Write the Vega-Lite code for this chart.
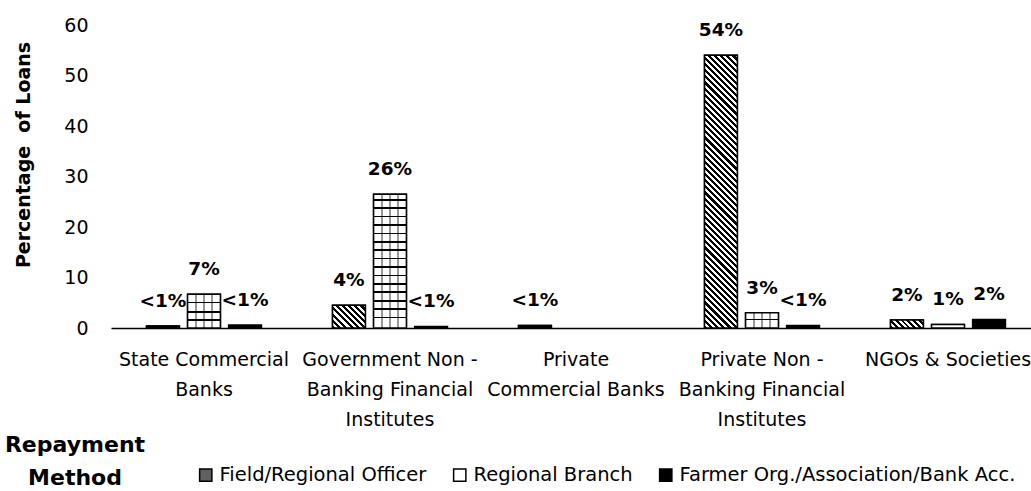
{
  "$schema": "https://vega.github.io/schema/vega-lite/v6.json",
  "autosize": "none",
  "width": 920,
  "height": 303,
  "padding": {"left": 111, "top": 25, "right": 0, "bottom": 163},
  "background": "white",
  "config": {"view": {"stroke": null}, "font": "DejaVu Sans", "axis": {"grid": false}},
  "data": {
    "values": [
      {"sector": "State Commercial Banks", "method": "Field/Regional Officer", "value": 0.4, "label": "<1%"},
      {"sector": "State Commercial Banks", "method": "Regional Branch", "value": 6.7, "label": "7%"},
      {"sector": "State Commercial Banks", "method": "Farmer Org./Association/Bank Acc.", "value": 0.6, "label": "<1%"},
      {"sector": "Government Non - Banking Financial Institutes", "method": "Field/Regional Officer", "value": 4.5, "label": "4%"},
      {"sector": "Government Non - Banking Financial Institutes", "method": "Regional Branch", "value": 26.5, "label": "26%"},
      {"sector": "Government Non - Banking Financial Institutes", "method": "Farmer Org./Association/Bank Acc.", "value": 0.3, "label": "<1%"},
      {"sector": "Private Commercial Banks", "method": "Field/Regional Officer", "value": 0.5, "label": "<1%"},
      {"sector": "Private Non - Banking Financial Institutes", "method": "Field/Regional Officer", "value": 54, "label": "54%"},
      {"sector": "Private Non - Banking Financial Institutes", "method": "Regional Branch", "value": 3.0, "label": "3%"},
      {"sector": "Private Non - Banking Financial Institutes", "method": "Farmer Org./Association/Bank Acc.", "value": 0.5, "label": "<1%"},
      {"sector": "NGOs & Societies", "method": "Field/Regional Officer", "value": 1.6, "label": "2%"},
      {"sector": "NGOs & Societies", "method": "Regional Branch", "value": 0.7, "label": "1%"},
      {"sector": "NGOs & Societies", "method": "Farmer Org./Association/Bank Acc.", "value": 1.7, "label": "2%"}
    ]
  },
  "encoding": {
    "x": {
      "field": "sector", "type": "nominal",
      "sort": ["State Commercial Banks", "Government Non - Banking Financial Institutes", "Private Commercial Banks", "Private Non - Banking Financial Institutes", "NGOs & Societies"],
      "scale": {"range": [0, 930], "paddingInner": 0.382, "paddingOuter": 0.191},
      "title": null,
      "axis": {
        "domain": true, "domainColor": "black", "domainWidth": 1.5,
        "ticks": false, "labelAngle": 0, "labelFontSize": 19, "labelColor": "black",
        "labelLineHeight": 30, "labelPadding": 22, "labelLimit": 0, "labelOverlap": false,
        "labelExpr": "datum.value == 'State Commercial Banks' ? ['State Commercial', 'Banks'] : datum.value == 'Private Commercial Banks' ? ['Private', 'Commercial Banks'] : datum.value == 'NGOs & Societies' ? 'NGOs & Societies' : indexof(datum.value, 'Government') == 0 ? ['Government Non -', 'Banking Financial', 'Institutes'] : ['Private Non -', 'Banking Financial', 'Institutes']"
      }
    },
    "xOffset": {
      "field": "method", "type": "nominal",
      "scale": {"domain": ["Field/Regional Officer", "Regional Branch", "Farmer Org./Association/Bank Acc."], "paddingInner": 0.2, "paddingOuter": 0}
    },
    "y": {
      "field": "value", "type": "quantitative",
      "scale": {"domain": [0, 60], "nice": false},
      "title": "Percentage\u00a0 of Loans",
      "axis": {
        "values": [0, 10, 20, 30, 40, 50, 60], "domain": false, "ticks": false, "grid": false,
        "labelFontSize": 19, "labelColor": "black", "labelPadding": 23,
        "titleFontSize": 19, "titleFontWeight": "bold", "titleColor": "black",
        "titleX": -88, "titleY": 129.5, "titleAngle": -90, "titleAlign": "center", "titleBaseline": "middle"
      }
    }
  },
  "layer": [
    {
      "mark": {"type": "bar", "stroke": "black", "strokeWidth": 1.5},
      "encoding": {
        "color": {
          "field": "method", "type": "nominal",
          "scale": {"domain": ["Field/Regional Officer", "Regional Branch", "Farmer Org./Association/Bank Acc."], "range": ["#606060", "white", "black"]},
          "legend": {
            "title": ["Repayment", "Method"], "orient": "none", "legendX": -106, "legendY": 440,
            "direction": "horizontal", "titleOrient": "left", "titleFontSize": 22, "titleFontWeight": "bold",
            "titleColor": "black", "titleLineHeight": 33, "titleAlign": "center", "titlePadding": -20,
            "titleAnchor": "end", "titleBaseline": "alphabetic",
            "labelFontSize": 19.5, "labelColor": "black", "symbolType": "square", "symbolSize": 150,
            "symbolStrokeColor": "black", "symbolStrokeWidth": 1.5, "columnPadding": 23, "labelOffset": 4, "labelLimit": 0
          }
        }
      }
    },
    {
      "transform": [{"filter": "datum.method == 'Field/Regional Officer'"}],
      "mark": {"type": "bar", "stroke": "black", "strokeWidth": 1.5},
      "encoding": {
        "fill": {
          "condition": [
            {"test": "datum.value > 50", "value": {"gradient": "linear", "x1": 0, "y1": 1, "x2": 0.133, "y2": -0.1044, "stops": [
              {"offset":0,"color":"#000"},{"offset":0.01,"color":"#000"},{"offset":0.01,"color":"#fff"},{"offset":0.02,"color":"#fff"},
              {"offset":0.02,"color":"#000"},{"offset":0.03,"color":"#000"},{"offset":0.03,"color":"#fff"},{"offset":0.04,"color":"#fff"},
              {"offset":0.04,"color":"#000"},{"offset":0.05,"color":"#000"},{"offset":0.05,"color":"#fff"},{"offset":0.06,"color":"#fff"},
              {"offset":0.06,"color":"#000"},{"offset":0.07,"color":"#000"},{"offset":0.07,"color":"#fff"},{"offset":0.08,"color":"#fff"},
              {"offset":0.08,"color":"#000"},{"offset":0.09,"color":"#000"},{"offset":0.09,"color":"#fff"},{"offset":0.10,"color":"#fff"},
              {"offset":0.10,"color":"#000"},{"offset":0.11,"color":"#000"},{"offset":0.11,"color":"#fff"},{"offset":0.12,"color":"#fff"},
              {"offset":0.12,"color":"#000"},{"offset":0.13,"color":"#000"},{"offset":0.13,"color":"#fff"},{"offset":0.14,"color":"#fff"},
              {"offset":0.14,"color":"#000"},{"offset":0.15,"color":"#000"},{"offset":0.15,"color":"#fff"},{"offset":0.16,"color":"#fff"},
              {"offset":0.16,"color":"#000"},{"offset":0.17,"color":"#000"},{"offset":0.17,"color":"#fff"},{"offset":0.18,"color":"#fff"},
              {"offset":0.18,"color":"#000"},{"offset":0.19,"color":"#000"},{"offset":0.19,"color":"#fff"},{"offset":0.20,"color":"#fff"},
              {"offset":0.20,"color":"#000"},{"offset":0.21,"color":"#000"},{"offset":0.21,"color":"#fff"},{"offset":0.22,"color":"#fff"},
              {"offset":0.22,"color":"#000"},{"offset":0.23,"color":"#000"},{"offset":0.23,"color":"#fff"},{"offset":0.24,"color":"#fff"},
              {"offset":0.24,"color":"#000"},{"offset":0.25,"color":"#000"},{"offset":0.25,"color":"#fff"},{"offset":0.26,"color":"#fff"},
              {"offset":0.26,"color":"#000"},{"offset":0.27,"color":"#000"},{"offset":0.27,"color":"#fff"},{"offset":0.28,"color":"#fff"},
              {"offset":0.28,"color":"#000"},{"offset":0.29,"color":"#000"},{"offset":0.29,"color":"#fff"},{"offset":0.30,"color":"#fff"},
              {"offset":0.30,"color":"#000"},{"offset":0.31,"color":"#000"},{"offset":0.31,"color":"#fff"},{"offset":0.32,"color":"#fff"},
              {"offset":0.32,"color":"#000"},{"offset":0.33,"color":"#000"},{"offset":0.33,"color":"#fff"},{"offset":0.34,"color":"#fff"},
              {"offset":0.34,"color":"#000"},{"offset":0.35,"color":"#000"},{"offset":0.35,"color":"#fff"},{"offset":0.36,"color":"#fff"},
              {"offset":0.36,"color":"#000"},{"offset":0.37,"color":"#000"},{"offset":0.37,"color":"#fff"},{"offset":0.38,"color":"#fff"},
              {"offset":0.38,"color":"#000"},{"offset":0.39,"color":"#000"},{"offset":0.39,"color":"#fff"},{"offset":0.40,"color":"#fff"},
              {"offset":0.40,"color":"#000"},{"offset":0.41,"color":"#000"},{"offset":0.41,"color":"#fff"},{"offset":0.42,"color":"#fff"},
              {"offset":0.42,"color":"#000"},{"offset":0.43,"color":"#000"},{"offset":0.43,"color":"#fff"},{"offset":0.44,"color":"#fff"},
              {"offset":0.44,"color":"#000"},{"offset":0.45,"color":"#000"},{"offset":0.45,"color":"#fff"},{"offset":0.46,"color":"#fff"},
              {"offset":0.46,"color":"#000"},{"offset":0.47,"color":"#000"},{"offset":0.47,"color":"#fff"},{"offset":0.48,"color":"#fff"},
              {"offset":0.48,"color":"#000"},{"offset":0.49,"color":"#000"},{"offset":0.49,"color":"#fff"},{"offset":0.50,"color":"#fff"},
              {"offset":0.50,"color":"#000"},{"offset":0.51,"color":"#000"},{"offset":0.51,"color":"#fff"},{"offset":0.52,"color":"#fff"},
              {"offset":0.52,"color":"#000"},{"offset":0.53,"color":"#000"},{"offset":0.53,"color":"#fff"},{"offset":0.54,"color":"#fff"},
              {"offset":0.54,"color":"#000"},{"offset":0.55,"color":"#000"},{"offset":0.55,"color":"#fff"},{"offset":0.56,"color":"#fff"},
              {"offset":0.56,"color":"#000"},{"offset":0.57,"color":"#000"},{"offset":0.57,"color":"#fff"},{"offset":0.58,"color":"#fff"},
              {"offset":0.58,"color":"#000"},{"offset":0.59,"color":"#000"},{"offset":0.59,"color":"#fff"},{"offset":0.60,"color":"#fff"},
              {"offset":0.60,"color":"#000"},{"offset":0.61,"color":"#000"},{"offset":0.61,"color":"#fff"},{"offset":0.62,"color":"#fff"},
              {"offset":0.62,"color":"#000"},{"offset":0.63,"color":"#000"},{"offset":0.63,"color":"#fff"},{"offset":0.64,"color":"#fff"},
              {"offset":0.64,"color":"#000"},{"offset":0.65,"color":"#000"},{"offset":0.65,"color":"#fff"},{"offset":0.66,"color":"#fff"},
              {"offset":0.66,"color":"#000"},{"offset":0.67,"color":"#000"},{"offset":0.67,"color":"#fff"},{"offset":0.68,"color":"#fff"},
              {"offset":0.68,"color":"#000"},{"offset":0.69,"color":"#000"},{"offset":0.69,"color":"#fff"},{"offset":0.70,"color":"#fff"},
              {"offset":0.70,"color":"#000"},{"offset":0.71,"color":"#000"},{"offset":0.71,"color":"#fff"},{"offset":0.72,"color":"#fff"},
              {"offset":0.72,"color":"#000"},{"offset":0.73,"color":"#000"},{"offset":0.73,"color":"#fff"},{"offset":0.74,"color":"#fff"},
              {"offset":0.74,"color":"#000"},{"offset":0.75,"color":"#000"},{"offset":0.75,"color":"#fff"},{"offset":0.76,"color":"#fff"},
              {"offset":0.76,"color":"#000"},{"offset":0.77,"color":"#000"},{"offset":0.77,"color":"#fff"},{"offset":0.78,"color":"#fff"},
              {"offset":0.78,"color":"#000"},{"offset":0.79,"color":"#000"},{"offset":0.79,"color":"#fff"},{"offset":0.80,"color":"#fff"},
              {"offset":0.80,"color":"#000"},{"offset":0.81,"color":"#000"},{"offset":0.81,"color":"#fff"},{"offset":0.82,"color":"#fff"},
              {"offset":0.82,"color":"#000"},{"offset":0.83,"color":"#000"},{"offset":0.83,"color":"#fff"},{"offset":0.84,"color":"#fff"},
              {"offset":0.84,"color":"#000"},{"offset":0.85,"color":"#000"},{"offset":0.85,"color":"#fff"},{"offset":0.86,"color":"#fff"},
              {"offset":0.86,"color":"#000"},{"offset":0.87,"color":"#000"},{"offset":0.87,"color":"#fff"},{"offset":0.88,"color":"#fff"},
              {"offset":0.88,"color":"#000"},{"offset":0.89,"color":"#000"},{"offset":0.89,"color":"#fff"},{"offset":0.90,"color":"#fff"},
              {"offset":0.90,"color":"#000"},{"offset":0.91,"color":"#000"},{"offset":0.91,"color":"#fff"},{"offset":0.92,"color":"#fff"},
              {"offset":0.92,"color":"#000"},{"offset":0.93,"color":"#000"},{"offset":0.93,"color":"#fff"},{"offset":0.94,"color":"#fff"},
              {"offset":0.94,"color":"#000"},{"offset":0.95,"color":"#000"},{"offset":0.95,"color":"#fff"},{"offset":0.96,"color":"#fff"},
              {"offset":0.96,"color":"#000"},{"offset":0.97,"color":"#000"},{"offset":0.97,"color":"#fff"},{"offset":0.98,"color":"#fff"},
              {"offset":0.98,"color":"#000"},{"offset":0.99,"color":"#000"},{"offset":0.99,"color":"#fff"},{"offset":1,"color":"#fff"}
            ]}},
            {"test": "datum.value > 3", "value": {"gradient": "linear", "x1": 0, "y1": 1, "x2": 1.1444, "y2": 0.209, "stops": [
              {"offset":0,"color":"#000"},{"offset":0.0556,"color":"#000"},{"offset":0.0556,"color":"#fff"},{"offset":0.1111,"color":"#fff"},
              {"offset":0.1111,"color":"#000"},{"offset":0.1667,"color":"#000"},{"offset":0.1667,"color":"#fff"},{"offset":0.2222,"color":"#fff"},
              {"offset":0.2222,"color":"#000"},{"offset":0.2778,"color":"#000"},{"offset":0.2778,"color":"#fff"},{"offset":0.3333,"color":"#fff"},
              {"offset":0.3333,"color":"#000"},{"offset":0.3889,"color":"#000"},{"offset":0.3889,"color":"#fff"},{"offset":0.4444,"color":"#fff"},
              {"offset":0.4444,"color":"#000"},{"offset":0.5,"color":"#000"},{"offset":0.5,"color":"#fff"},{"offset":0.5556,"color":"#fff"},
              {"offset":0.5556,"color":"#000"},{"offset":0.6111,"color":"#000"},{"offset":0.6111,"color":"#fff"},{"offset":0.6667,"color":"#fff"},
              {"offset":0.6667,"color":"#000"},{"offset":0.7222,"color":"#000"},{"offset":0.7222,"color":"#fff"},{"offset":0.7778,"color":"#fff"},
              {"offset":0.7778,"color":"#000"},{"offset":0.8333,"color":"#000"},{"offset":0.8333,"color":"#fff"},{"offset":0.8889,"color":"#fff"},
              {"offset":0.8889,"color":"#000"},{"offset":0.9444,"color":"#000"},{"offset":0.9444,"color":"#fff"},{"offset":1,"color":"#fff"}
            ]}},
            {"test": "datum.value > 1", "value": {"gradient": "linear", "x1": 0, "y1": 1, "x2": 1.1752, "y2": 0.7101, "stops": [
              {"offset":0,"color":"#000"},{"offset":0.0714,"color":"#000"},{"offset":0.0714,"color":"#fff"},{"offset":0.1429,"color":"#fff"},
              {"offset":0.1429,"color":"#000"},{"offset":0.2143,"color":"#000"},{"offset":0.2143,"color":"#fff"},{"offset":0.2857,"color":"#fff"},
              {"offset":0.2857,"color":"#000"},{"offset":0.3571,"color":"#000"},{"offset":0.3571,"color":"#fff"},{"offset":0.4286,"color":"#fff"},
              {"offset":0.4286,"color":"#000"},{"offset":0.5,"color":"#000"},{"offset":0.5,"color":"#fff"},{"offset":0.5714,"color":"#fff"},
              {"offset":0.5714,"color":"#000"},{"offset":0.6429,"color":"#000"},{"offset":0.6429,"color":"#fff"},{"offset":0.7143,"color":"#fff"},
              {"offset":0.7143,"color":"#000"},{"offset":0.7857,"color":"#000"},{"offset":0.7857,"color":"#fff"},{"offset":0.8571,"color":"#fff"},
              {"offset":0.8571,"color":"#000"},{"offset":0.9286,"color":"#000"},{"offset":0.9286,"color":"#fff"},{"offset":1,"color":"#fff"}
            ]}}
          ],
          "value": "black"
        }
      }
    },
    {
      "transform": [{"filter": "datum.method == 'Regional Branch'"}],
      "mark": {"type": "bar", "stroke": "black", "strokeWidth": 1.5},
      "encoding": {
        "fill": {
          "condition": [
            {"test": "datum.value > 20", "value": {"gradient": "linear", "x1": 0, "y1": 0, "x2": 0, "y2": 1, "stops": [
              {"offset":0.0366,"color":"#fff"},{"offset":0.0366,"color":"#000"},{"offset":0.0486,"color":"#000"},{"offset":0.0486,"color":"#fff"},
              {"offset":0.0994,"color":"#fff"},{"offset":0.0994,"color":"#000"},{"offset":0.1114,"color":"#000"},{"offset":0.1114,"color":"#fff"},
              {"offset":0.1622,"color":"#fff"},{"offset":0.1622,"color":"#000"},{"offset":0.1742,"color":"#000"},{"offset":0.1742,"color":"#fff"},
              {"offset":0.2249,"color":"#fff"},{"offset":0.2249,"color":"#000"},{"offset":0.2369,"color":"#000"},{"offset":0.2369,"color":"#fff"},
              {"offset":0.2877,"color":"#fff"},{"offset":0.2877,"color":"#000"},{"offset":0.2997,"color":"#000"},{"offset":0.2997,"color":"#fff"},
              {"offset":0.3505,"color":"#fff"},{"offset":0.3505,"color":"#000"},{"offset":0.3625,"color":"#000"},{"offset":0.3625,"color":"#fff"},
              {"offset":0.4133,"color":"#fff"},{"offset":0.4133,"color":"#000"},{"offset":0.4253,"color":"#000"},{"offset":0.4253,"color":"#fff"},
              {"offset":0.4761,"color":"#fff"},{"offset":0.4761,"color":"#000"},{"offset":0.4881,"color":"#000"},{"offset":0.4881,"color":"#fff"},
              {"offset":0.5388,"color":"#fff"},{"offset":0.5388,"color":"#000"},{"offset":0.5508,"color":"#000"},{"offset":0.5508,"color":"#fff"},
              {"offset":0.6016,"color":"#fff"},{"offset":0.6016,"color":"#000"},{"offset":0.6136,"color":"#000"},{"offset":0.6136,"color":"#fff"},
              {"offset":0.6644,"color":"#fff"},{"offset":0.6644,"color":"#000"},{"offset":0.6764,"color":"#000"},{"offset":0.6764,"color":"#fff"},
              {"offset":0.7272,"color":"#fff"},{"offset":0.7272,"color":"#000"},{"offset":0.7392,"color":"#000"},{"offset":0.7392,"color":"#fff"},
              {"offset":0.79,"color":"#fff"},{"offset":0.79,"color":"#000"},{"offset":0.802,"color":"#000"},{"offset":0.802,"color":"#fff"},
              {"offset":0.8527,"color":"#fff"},{"offset":0.8527,"color":"#000"},{"offset":0.8647,"color":"#000"},{"offset":0.8647,"color":"#fff"},
              {"offset":0.9155,"color":"#fff"},{"offset":0.9155,"color":"#000"},{"offset":0.9275,"color":"#000"},{"offset":0.9275,"color":"#fff"}
            ]}},
            {"test": "datum.value > 5", "value": {"gradient": "linear", "x1": 0, "y1": 0, "x2": 0, "y2": 1, "stops": [
              {"offset":0.2248,"color":"#fff"},{"offset":0.2248,"color":"#000"},{"offset":0.2722,"color":"#000"},{"offset":0.2722,"color":"#fff"},
              {"offset":0.5,"color":"#fff"},{"offset":0.5,"color":"#000"},{"offset":0.5474,"color":"#000"},{"offset":0.5474,"color":"#fff"},
              {"offset":0.7455,"color":"#fff"},{"offset":0.7455,"color":"#000"},{"offset":0.7929,"color":"#000"},{"offset":0.7929,"color":"#fff"}
            ]}},
            {"test": "datum.value > 2", "value": {"gradient": "linear", "x1": 0, "y1": 0, "x2": 0, "y2": 1, "stops": [
              {"offset":0.387,"color":"#fff"},{"offset":0.387,"color":"#000"},{"offset":0.493,"color":"#000"},{"offset":0.493,"color":"#fff"}
            ]}}
          ],
          "value": "white"
        }
      }
    },
    {
      "transform": [{"filter": "datum.method == 'Regional Branch' && datum.value > 2"}],
      "mark": {"type": "bar", "strokeWidth": 0},
      "encoding": {
        "fill": {"value": {"gradient": "linear", "x1": 0, "y1": 0, "x2": 1, "y2": 0, "stops": [
          {"offset":0.226,"color":"rgba(0,0,0,0)"},{"offset":0.226,"color":"rgba(0,0,0,0.4)"},{"offset":0.274,"color":"rgba(0,0,0,0.4)"},{"offset":0.274,"color":"rgba(0,0,0,0)"},
          {"offset":0.476,"color":"rgba(0,0,0,0)"},{"offset":0.476,"color":"rgba(0,0,0,0.4)"},{"offset":0.524,"color":"rgba(0,0,0,0.4)"},{"offset":0.524,"color":"rgba(0,0,0,0)"},
          {"offset":0.726,"color":"rgba(0,0,0,0)"},{"offset":0.726,"color":"rgba(0,0,0,0.4)"},{"offset":0.774,"color":"rgba(0,0,0,0.4)"},{"offset":0.774,"color":"rgba(0,0,0,0)"}
        ]}}
      }
    },
    {
      "mark": {"type": "text", "font": "DejaVu Sans", "fontWeight": "bold", "fontSize": 18.5, "dy": -25, "baseline": "middle", "color": "black"},
      "encoding": {"text": {"field": "label", "type": "nominal"}}
    }
  ]
}
